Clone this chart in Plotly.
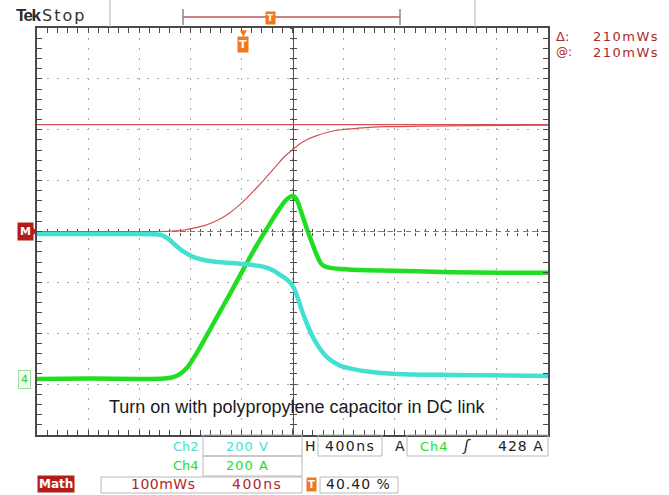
import plotly.graph_objects as go

# ---------------- data ----------------
# Ch4: collector current [A]
T_CUR = [-1616, -1200, -800, -620, -560, -500, -440, -380, -300, -200, -100, 0, 100, 200, 280,
         330, 365, 385, 405, 425, 450, 490, 530, 570, 605, 640, 680, 760, 968, 1360, 1619, 2000,
         2384]
I_CUR = [0, 2, 0, 2, 6, 18, 45, 90, 160, 250, 340, 432, 522, 605, 668,
         702, 716, 720, 714, 697, 660, 600, 545, 492, 456, 442, 437, 433, 428, 424, 420, 418,
         418]

# Ch2: collector-emitter voltage [V]
T_VOLT = [-1616, -900, -700, -640, -590, -540, -480, -420, -360, -280, -200, -100, 0, 152, 230,
          285, 330, 370, 400, 430, 460, 490, 520, 560, 600, 650, 700, 760, 850, 968, 1203, 1619,
          2384]
V_VOLT = [570, 570, 569, 566, 552, 530, 505, 487, 474, 465, 460, 456, 452, 442, 428,
          410, 395, 377, 352, 312, 266, 226, 190, 150, 118, 88, 68, 52, 40, 30, 20, 16,
          12]

# Math: switching energy [mWs]
T_MATH = [-1616, -700, -560, -460, -380, -300, -220, -140, -60, 20, 100, 180, 260, 320, 380,
          440, 500, 580, 660, 760, 900, 1100, 1400, 1800, 2384]
E_MATH = [0, 0, 1, 3, 7, 12, 20, 31, 46, 64, 85, 107, 130, 147, 160,
          172, 181, 189, 195, 200, 203, 206, 207, 208, 209]

CURSORS_MWS = [0, 210]

# scope settings
TIME_PER_DIV = 400      # ns/div
AMP_PER_DIV = 200       # A/div
VOLT_PER_DIV = 200      # V/div
MATH_PER_DIV = 100      # mWs/div
TRIG_LEVEL_A = 428
TRIG_POS_PCT = 40.40
GROUND_DIV = -2.9       # channel ground position (div from centre)
N_XDIV, N_YDIV = 10, 8

X0 = -TRIG_POS_PCT / 100 * N_XDIV * TIME_PER_DIV
X_RANGE = [X0, X0 + N_XDIV * TIME_PER_DIV]
A_RANGE = [(-N_YDIV / 2 - GROUND_DIV) * AMP_PER_DIV, (N_YDIV / 2 - GROUND_DIV) * AMP_PER_DIV]
V_RANGE = [(-N_YDIV / 2 - GROUND_DIV) * VOLT_PER_DIV, (N_YDIV / 2 - GROUND_DIV) * VOLT_PER_DIV]
M_RANGE = [-N_YDIV / 2 * MATH_PER_DIV, N_YDIV / 2 * MATH_PER_DIV]

# ---------------- colours / fonts ----------------
CYAN = "#42e0d0"
GREEN = "#22de22"
RED = "#d55050"
RED_TXT = "#b02828"
ORANGE = "#f07820"
FRAME = "#4a4a4a"
GRID = "#a8a8a8"
SCOPE_FONT = "DejaVu Sans"

W, H = 669, 495
L, R, T, B = 37, 548, 28, 435


def px(x):
    return (x - L) / (R - L)


def py(y):
    return (B - y) / (B - T)


def spaced(s, sp=1):
    return f'<span style="letter-spacing:{sp}px">{s}</span>'


fig = go.Figure()

# invisible traces that create the centre-crosshair overlay axes
for xa, ya in [("x2", "y"), ("x3", "y"), ("x", "y4"), ("x", "y5")]:
    fig.add_trace(go.Scatter(x=X_RANGE, y=A_RANGE, xaxis=xa, yaxis=ya, mode="lines",
                             line=dict(width=0), opacity=0, hoverinfo="skip", showlegend=False))

# cursors (math)
fig.add_trace(go.Scatter(x=X_RANGE, y=[CURSORS_MWS[0]] * 2, yaxis="y3", mode="lines",
                         line=dict(color=RED, width=1.2, dash="5px,4px"), showlegend=False))
fig.add_trace(go.Scatter(x=X_RANGE, y=[CURSORS_MWS[1]] * 2, yaxis="y3", mode="lines",
                         line=dict(color=RED, width=1.2), showlegend=False))

# waveforms
fig.add_trace(go.Scatter(x=T_CUR, y=I_CUR, yaxis="y", mode="lines",
                         line=dict(color=GREEN, width=4.5, shape="spline", smoothing=0.7),
                         name="Ch4", showlegend=False))
fig.add_trace(go.Scatter(x=T_VOLT, y=V_VOLT, yaxis="y2", mode="lines",
                         line=dict(color=CYAN, width=4.5, shape="spline", smoothing=0.7),
                         name="Ch2", showlegend=False))
fig.add_trace(go.Scatter(x=T_MATH, y=E_MATH, yaxis="y3", mode="lines",
                         line=dict(color=RED, width=1.2, shape="spline", smoothing=0.7),
                         name="Math", showlegend=False))

frame_common = dict(showticklabels=False, zeroline=False, showline=True, linecolor=FRAME,
                    linewidth=2, mirror="allticks", ticks="inside", ticklen=5,
                    tickcolor=FRAME, tickwidth=1, showgrid=True, gridcolor=GRID,
                    griddash="2px,8px", gridwidth=1)
cross_common = dict(showticklabels=False, zeroline=False, showgrid=False,
                    linecolor="#505050", linewidth=1, tickcolor="#505050", ticklen=3,
                    tickwidth=1, anchor="free", position=0.5, layer="below traces")

fig.update_layout(
    width=W, height=H,
    margin=dict(l=L, r=W - R, t=T, b=H - B),
    paper_bgcolor="white", plot_bgcolor="white",
    xaxis=dict(range=X_RANGE, tick0=X0, dtick=TIME_PER_DIV,
               minor=dict(dtick=TIME_PER_DIV / 5, tick0=X0, ticks="inside", ticklen=3,
                          tickcolor=FRAME, showgrid=False), **frame_common),
    yaxis=dict(range=A_RANGE, tick0=A_RANGE[0], dtick=AMP_PER_DIV,
               minor=dict(dtick=AMP_PER_DIV / 5, tick0=A_RANGE[0], ticks="inside", ticklen=3,
                          tickcolor=FRAME, showgrid=False), **frame_common),
    yaxis2=dict(range=V_RANGE, overlaying="y", visible=False),
    yaxis3=dict(range=M_RANGE, overlaying="y", visible=False),
    xaxis2=dict(range=X_RANGE, overlaying="x", tick0=X0, dtick=TIME_PER_DIV / 5,
                ticks="inside", showline=False, **cross_common),
    xaxis3=dict(range=X_RANGE, overlaying="x", tick0=X0, dtick=TIME_PER_DIV / 5,
                ticks="outside", showline=False, **cross_common),
    yaxis4=dict(range=A_RANGE, overlaying="y", tick0=A_RANGE[0], dtick=AMP_PER_DIV / 5,
                ticks="inside", showline=True, **cross_common),
    yaxis5=dict(range=A_RANGE, overlaying="y", tick0=A_RANGE[0], dtick=AMP_PER_DIV / 5,
                ticks="outside", showline=True, **cross_common),
)

ann = []
shapes = []


def text(x, y, s, color="#222", size=13, xanchor="left", family=SCOPE_FONT, **kw):
    ann.append(dict(x=px(x), y=py(y), xref="paper", yref="paper", text=s, showarrow=False,
                    xanchor=xanchor, yanchor="middle",
                    font=dict(family=family, size=size, color=color), **kw))


def box(x0, y0, x1, y1, line="#b8b8b8", fill=None, width=1):
    shapes.append(dict(type="rect", xref="paper", yref="paper", x0=px(x0), x1=px(x1),
                       y0=py(y1), y1=py(y0), line=dict(color=line, width=width),
                       fillcolor=fill, layer="above"))


def seg(x0, y0, x1, y1, color, width=1):
    shapes.append(dict(type="line", xref="paper", yref="paper", x0=px(x0), x1=px(x1),
                       y0=py(y0), y1=py(y1), line=dict(color=color, width=width)))


# --- header ---
text(14, 16, spaced("<b>Tek</b>", -1.5), "#2a2a2a", 17, family="Liberation Sans")
text(40, 16, spaced("Stop", 2), "#333", 16, family=SCOPE_FONT)
seg(110, 0, 110, 27, "#b0b0b0", 1)
seg(475, 0, 475, 27, "#b0b0b0", 1)
BR0, BR1 = 183, 400
seg(BR0, 17, BR1, 17, "#d08080", 2)
seg(BR0, 9, BR0, 25, "#888", 1.5)
seg(BR1, 9, BR1, 25, "#888", 1.5)
tx = BR0 + TRIG_POS_PCT / 100 * (BR1 - BR0)
ann.append(dict(x=px(tx), y=py(18), xref="paper", yref="paper", text="<b>T</b>",
                showarrow=False, xanchor="center", yanchor="middle",
                font=dict(family=SCOPE_FONT, size=9, color="white"),
                bgcolor=ORANGE, borderpad=1))
# trigger-point marker on the time axis
ann.append(dict(x=0, y=py(33), xref="x", yref="paper", text="▼", showarrow=False,
                xanchor="center", yanchor="middle",
                font=dict(family=SCOPE_FONT, size=9, color=ORANGE)))
ann.append(dict(x=0, y=py(45), xref="x", yref="paper", text="<b>T</b>", showarrow=False,
                xanchor="center", yanchor="middle",
                font=dict(family=SCOPE_FONT, size=11, color="white"), bgcolor=ORANGE,
                borderpad=1))

# cursor readouts
text(554, 36, "Δ:", RED_TXT, 13)
text(661, 36, spaced(f"{CURSORS_MWS[1] - CURSORS_MWS[0]}mWs", 1.5), RED_TXT, 13,
     xanchor="right")
text(554, 52, "@:", RED_TXT, 12)
text(661, 52, spaced(f"{CURSORS_MWS[1]}mWs", 1.5), RED_TXT, 13, xanchor="right")

# channel markers
ann.append(dict(x=px(25), y=0, xref="paper", yref="y3", text="<b>M</b>", showarrow=False,
                xanchor="center", yanchor="middle",
                font=dict(family=SCOPE_FONT, size=11, color="white"), bgcolor="#b51d1d",
                borderpad=2))
shapes.append(dict(type="path", xref="paper", yref="y3",
                   path=f"M {px(32)},{9} L {px(37)},0 L {px(32)},{-9} Z",
                   fillcolor="#b51d1d", line=dict(width=0)))
ann.append(dict(x=px(24), y=0, xref="paper", yref="y", text="4", showarrow=False,
                xanchor="center", yanchor="middle",
                font=dict(family=SCOPE_FONT, size=11, color="#3cc83c"), bgcolor="#eefdee",
                bordercolor="#9ddf9d", borderwidth=1, borderpad=2))

# caption
ann.append(dict(x=px(297), y=py(407), xref="paper", yref="paper",
                text="Turn on with polypropylene capacitor in DC link", showarrow=False,
                xanchor="center", yanchor="middle",
                font=dict(family="Liberation Sans", size=18, color="#1a1a1a")))

# --- bottom readouts ---
box(203, 435, 302, 456)
box(203, 456, 302, 476)
box(318, 435, 382, 456)
box(407, 435, 548, 456)
box(101, 477, 302, 493)
box(320, 477, 398, 493)
text(201, 446, "Ch2", CYAN, 13, xanchor="right")
text(247, 446, spaced(f"{VOLT_PER_DIV} V", 1), CYAN, 13, xanchor="center")
text(201, 466, "Ch4", GREEN, 13, xanchor="right")
text(247, 466, spaced(f"{AMP_PER_DIV} A", 1), GREEN, 13, xanchor="center")
text(303, 446, "H", "#222", 14)
text(350, 446, spaced(f"{TIME_PER_DIV}ns", 1.5), "#222", 14, xanchor="center")
text(393, 446, "A", "#222", 14)
text(418, 446, spaced("Ch4", 1), GREEN, 13)
text(466, 446, "<i>ʃ</i>", "#222", 15, xanchor="center")
text(546, 446, spaced(f"{TRIG_LEVEL_A} A", 1), "#222", 14, xanchor="right")
ann.append(dict(x=px(56), y=py(484), xref="paper", yref="paper", text="<b>Math</b>",
                showarrow=False, xanchor="center", yanchor="middle",
                font=dict(family=SCOPE_FONT, size=12, color="white"),
                bgcolor="#b51d1d", borderpad=1))
text(163, 484, spaced(f"{MATH_PER_DIV}mWs", 0.5), RED_TXT, 14, xanchor="center")
text(284, 484, spaced(f"{TIME_PER_DIV}ns", 1.5), RED_TXT, 14, xanchor="right")
ann.append(dict(x=px(311), y=py(484), xref="paper", yref="paper", text="<b>T</b>",
                showarrow=False, xanchor="center", yanchor="middle",
                font=dict(family=SCOPE_FONT, size=10, color="white"),
                bgcolor=ORANGE, borderpad=1))
text(324, 484, spaced(f"{TRIG_POS_PCT:.2f} %", 1), "#222", 14)

fig.update_layout(annotations=ann, shapes=shapes)
fig.write_html("out.html", config={"displayModeBar": False},
               post_script="document.body.style.margin='0';")
